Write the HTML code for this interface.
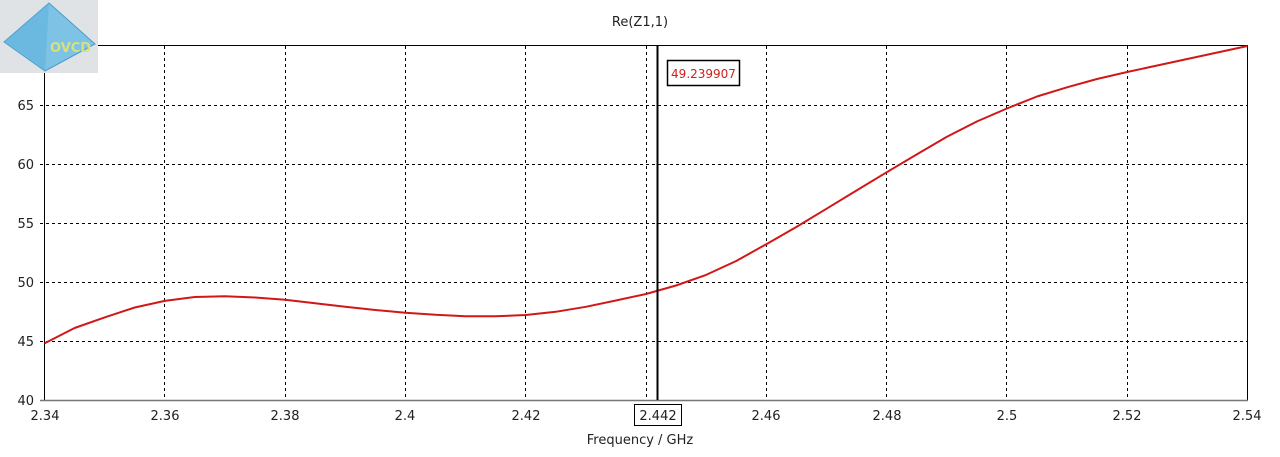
<!DOCTYPE html>
<html><head><meta charset="utf-8"><style>
body{margin:0;background:#fff;}
svg text{font-family:"DejaVu Sans","Liberation Sans",sans-serif;font-size:13px;fill:#222;}
</style></head><body>
<svg width="1280" height="452" viewBox="0 0 1280 452" xmlns="http://www.w3.org/2000/svg">
<rect width="1280" height="452" fill="#fff"/>
<!-- logo -->
<rect x="0" y="0" width="98" height="73" fill="#dfe3e6"/>
<polygon points="49,3 95,44 45,71 4,42" fill="#7ec3e6" stroke="#4a9cc8" stroke-width="1"/>
<polygon points="49,3 45,71 4,42" fill="#5fb0dc" opacity="0.6"/>
<text x="50" y="52" style="font-size:13px;fill:#d9e07a;font-weight:bold">OVCD</text>
<!-- grid -->
<g stroke="#000" stroke-width="1" stroke-dasharray="3,3">
<line x1="164.5" y1="46" x2="164.5" y2="400"/><line x1="285.5" y1="46" x2="285.5" y2="400"/>
<line x1="405.5" y1="46" x2="405.5" y2="400"/><line x1="525.5" y1="46" x2="525.5" y2="400"/>
<line x1="646.5" y1="46" x2="646.5" y2="400"/><line x1="766.5" y1="46" x2="766.5" y2="400"/>
<line x1="886.5" y1="46" x2="886.5" y2="400"/><line x1="1006.5" y1="46" x2="1006.5" y2="400"/>
<line x1="1127.5" y1="46" x2="1127.5" y2="400"/>
<line x1="40" y1="105.5" x2="1247" y2="105.5"/><line x1="40" y1="164.5" x2="1247" y2="164.5"/>
<line x1="40" y1="223.5" x2="1247" y2="223.5"/><line x1="40" y1="282.5" x2="1247" y2="282.5"/>
<line x1="40" y1="341.5" x2="1247" y2="341.5"/>
</g>
<line x1="98" y1="45.5" x2="1248" y2="45.5" stroke="#000"/>
<line x1="1247.5" y1="45" x2="1247.5" y2="400" stroke="#000"/>
<line x1="44.5" y1="73" x2="44.5" y2="401" stroke="#000"/>
<line x1="40" y1="400.5" x2="1248" y2="400.5" stroke="#777" stroke-width="1.5"/>
<!-- curve -->
<polyline fill="none" stroke="#d01818" stroke-width="2" stroke-linejoin="round"
points="44.5,343.4 74.6,328 104.6,317.4 134.7,307.5 164.8,300.9 194.8,297 224.9,296.2 255,297.5 285.1,299.7 315.1,303.2 345.2,306.8 375.3,310 405.4,312.7 435.4,314.8 465.5,316.2 495.6,316.3 525.7,315 555.7,311.8 585.8,306.8 615.9,300.5 646,294 676,285.5 706.1,274.9 736.2,261 766.3,244.2 796.3,227 826.4,208.8 856.5,190.5 886.6,172.3 916.6,154.5 946.7,136.9 976.8,121.5 1006.9,108.5 1037,96.5 1067,87.3 1097,79 1127.2,72 1157.2,65.5 1187.3,59 1217.4,52.5 1247.5,46"/>
<!-- marker -->
<line x1="657.5" y1="45" x2="657.5" y2="400" stroke="#000" stroke-width="2"/>
<rect x="667.5" y="60.5" width="72" height="25" fill="#fff" stroke="#000" stroke-width="1.5"/>
<text x="703.5" y="78" text-anchor="middle" style="fill:#d02020;font-size:12px">49.239907</text>
<rect x="634.5" y="404.5" width="47" height="21" fill="#fff" stroke="#000"/>
<text x="658" y="420" text-anchor="middle">2.442</text>
<!-- labels -->
<text x="640" y="26" text-anchor="middle">Re(Z1,1)</text>
<text x="640" y="444" text-anchor="middle">Frequency / GHz</text>
<g text-anchor="end">
<text x="34" y="110">65</text><text x="34" y="169">60</text><text x="34" y="228">55</text>
<text x="34" y="287">50</text><text x="34" y="346">45</text><text x="34" y="405">40</text>
</g>
<g text-anchor="middle">
<text x="45" y="420">2.34</text><text x="165" y="420">2.36</text><text x="285" y="420">2.38</text>
<text x="405" y="420">2.4</text><text x="526" y="420">2.42</text><text x="766" y="420">2.46</text>
<text x="887" y="420">2.48</text><text x="1007" y="420">2.5</text><text x="1127" y="420">2.52</text>
<text x="1247" y="420">2.54</text>
</g>
</svg>
</body></html>
